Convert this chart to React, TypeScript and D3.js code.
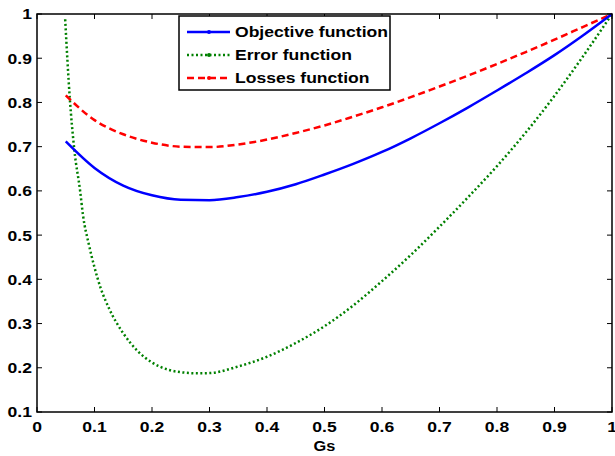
import React, { useRef, useEffect } from 'react';
import * as d3 from 'd3';

// x values shared by the objective and losses curves
const gsValues = [0.05, 0.1, 0.15, 0.2, 0.25, 0.3, 0.35, 0.4, 0.45, 0.5, 0.55, 0.6, 0.65, 0.7, 0.75, 0.8, 0.85, 0.9, 0.95, 1.0];
const objectiveValues = [0.712, 0.652, 0.612, 0.59, 0.58, 0.579, 0.586, 0.598, 0.615, 0.637, 0.661, 0.688, 0.719, 0.753, 0.789, 0.827, 0.866, 0.907, 0.952, 1.0];
const lossesValues = [0.816, 0.76, 0.728, 0.709, 0.7, 0.699, 0.705, 0.716, 0.731, 0.748, 0.768, 0.789, 0.812, 0.836, 0.861, 0.887, 0.914, 0.942, 0.971, 1.0];

// error curve drops steeply at the start, so it gets its own x values
const errorGs = [0.049, 0.057, 0.065, 0.075, 0.08, 0.09, 0.1, 0.11, 0.125, 0.15, 0.175, 0.2, 0.23, 0.25, 0.28, 0.3, 0.35, 0.4, 0.45, 0.5, 0.55, 0.6, 0.65, 0.7, 0.75, 0.8, 0.85, 0.9, 0.95, 1.0];
const errorValues = [0.988, 0.81, 0.692, 0.6, 0.545, 0.48, 0.427, 0.383, 0.335, 0.278, 0.238, 0.212, 0.195, 0.19, 0.1875, 0.188, 0.203, 0.225, 0.256, 0.294, 0.341, 0.396, 0.455, 0.519, 0.586, 0.656, 0.732, 0.815, 0.905, 1.0];

const xTicks = [0, 0.1, 0.2, 0.3, 0.4, 0.5, 0.6, 0.7, 0.8, 0.9, 1];
const yTicks = [0.1, 0.2, 0.3, 0.4, 0.5, 0.6, 0.7, 0.8, 0.9, 1];

const seriesNames = ['Objective function', 'Error function', 'Losses function'];
const seriesColors = ['#0000ff', '#008000', '#ff0000'];
const seriesDash = [null, '2,2.5', '7,4'];

const W = 615;
const H = 456;
const margin = { left: 37, right: 3, top: 14, bottom: 44 };
const FONT = '"Liberation Sans", Arial, sans-serif';
const STRETCH = 1.17; // the text in the picture is a little wider than plain Arial

const App = () => {
  const ref = useRef<SVGSVGElement>(null);

  useEffect(() => {
    const svg = d3.select(ref.current);
    svg.selectAll('*').remove();

    const x = d3.scaleLinear().domain([0, 1]).range([margin.left, W - margin.right]);
    const y = d3.scaleLinear().domain([0.1, 1]).range([H - margin.bottom, margin.top]);

    const x0 = x(0), x1 = x(1), y0 = y(0.1), y1 = y(1);

    svg.append('rect').attr('width', W).attr('height', H).attr('fill', '#fff');

    const tickLen = 5;
    const ticks = svg.append('g').attr('stroke', '#000').attr('stroke-width', 1);
    xTicks.forEach(t => {
      ticks.append('line').attr('x1', x(t)).attr('x2', x(t)).attr('y1', y0).attr('y2', y0 - tickLen);
      ticks.append('line').attr('x1', x(t)).attr('x2', x(t)).attr('y1', y1).attr('y2', y1 + tickLen);
    });
    yTicks.forEach(t => {
      ticks.append('line').attr('x1', x0).attr('x2', x0 + tickLen).attr('y1', y(t)).attr('y2', y(t));
      ticks.append('line').attr('x1', x1).attr('x2', x1 - tickLen).attr('y1', y(t)).attr('y2', y(t));
    });

    const label = (g, tx, ty, anchor, size, txt, dy = '0') =>
      g.append('text')
        .attr('transform', `translate(${tx},${ty}) scale(${STRETCH},1)`)
        .attr('dy', dy)
        .attr('text-anchor', anchor)
        .style('font-family', FONT).style('font-weight', 'bold').style('font-size', size + 'px')
        .text(txt);

    const fmt = d3.format('~g');
    const xl = svg.append('g');
    xTicks.forEach(t => label(xl, x(t), y0 + 20, 'middle', 15, fmt(t)));
    const yl = svg.append('g');
    yTicks.forEach(t => label(yl, x0 - 5, y(t), 'end', 15, fmt(t), '0.36em'));

    label(svg, (x0 + x1) / 2, 451, 'middle', 14, 'Gs');

    const line = d3.line<[number, number]>()
      .x(d => x(d[0]))
      .y(d => y(d[1]))
      .curve(d3.curveMonotoneX);

    const seriesData: [number, number][][] = [
      gsValues.map((g, i) => [g, objectiveValues[i]]),
      errorGs.map((g, i) => [g, errorValues[i]]),
      gsValues.map((g, i) => [g, lossesValues[i]]),
    ];

    // draw error first so the others sit above it
    [1, 2, 0].forEach(i => {
      svg.append('path')
        .attr('d', line(seriesData[i]))
        .attr('fill', 'none')
        .attr('stroke', seriesColors[i])
        .attr('stroke-width', 2.5)
        .attr('stroke-dasharray', seriesDash[i])
    });

    // box
    svg.append('rect')
      .attr('x', x0).attr('y', y1)
      .attr('width', x1 - x0).attr('height', y0 - y1)
      .attr('fill', 'none').attr('stroke', '#000').attr('stroke-width', 1.5);

    // legend
    const lg = svg.append('g');
    lg.append('rect')
      .attr('x', 179).attr('y', 16).attr('width', 211).attr('height', 74)
      .attr('fill', '#fff').attr('stroke', '#000').attr('stroke-width', 1.5);
    seriesNames.forEach((name, i) => {
      const ly = 32 + i * 23;
      lg.append('line')
        .attr('x1', 187).attr('x2', 230).attr('y1', ly).attr('y2', ly)
        .attr('stroke', seriesColors[i]).attr('stroke-width', 2.5)
        .attr('stroke-dasharray', seriesDash[i]);
      lg.append('circle')
        .attr('cx', 209).attr('cy', ly).attr('r', 2)
        .attr('fill', seriesColors[i]);
      label(lg, 235, ly, 'start', 15, name, '0.36em');
    });
  }, []);

  return <svg ref={ref} width={W} height={H} style={{ position: 'absolute', left: 0, top: 0 }}></svg>;
};

export default App;
